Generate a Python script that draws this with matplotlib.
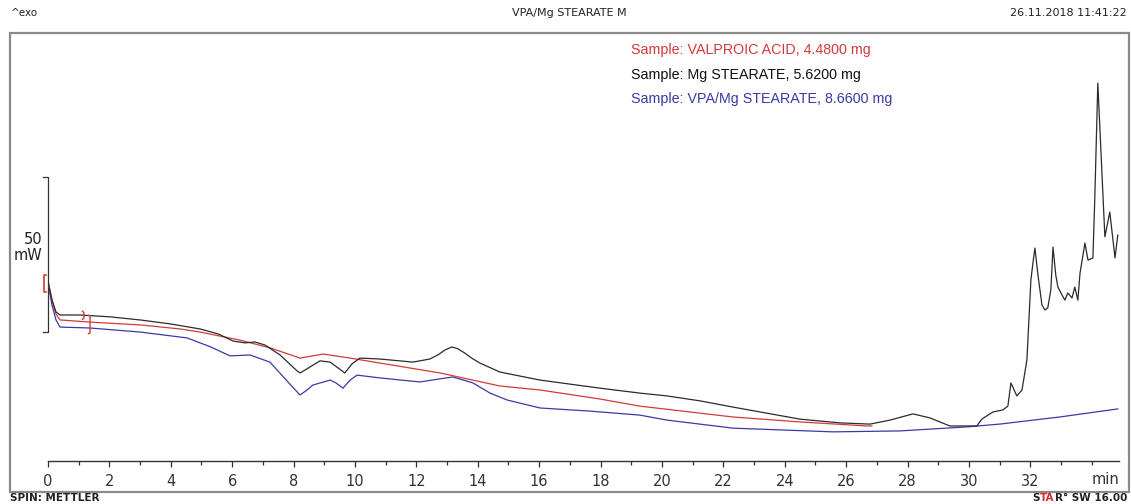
import matplotlib
matplotlib.use("Agg")
import matplotlib.pyplot as plt
from matplotlib.patches import Rectangle

# ---------------- data (time in min, heat flow in mW, arbitrary offset) ----------------
t_black = [0.00, 0.13, 0.26, 0.39, 1.04, 2.02, 3.00, 4.00, 4.95, 5.54, 6.03, 6.42, 6.74,
           7.07, 7.56, 7.98, 8.10, 8.21, 8.35, 8.53, 8.86, 9.19, 9.41, 9.67, 9.90, 10.16,
           10.81, 11.89, 12.44, 12.70, 12.93, 13.16, 13.35, 13.58, 13.80, 14.07, 14.72,
           16.03, 17.98, 19.28, 20.16, 21.24, 22.31, 24.50, 25.80, 26.78, 27.43, 28.18,
           28.73, 29.38, 30.26, 30.42, 30.78, 31.11, 31.27, 31.37, 31.56, 31.73, 31.89,
           32.02, 32.09, 32.15, 32.25, 32.38, 32.48, 32.57, 32.67, 32.74, 32.83, 32.90,
           33.03, 33.13, 33.22, 33.36, 33.45, 33.55, 33.62, 33.78, 33.88, 34.04, 34.10,
           34.20, 34.30, 34.43, 34.59, 34.76, 34.85]
hf_black = [58.1, 51.9, 48.1, 47.1, 47.1, 46.5, 45.5, 44.2, 42.6, 41.0, 38.7, 38.1, 38.4,
            37.4, 34.2, 30.3, 29.2, 28.4, 29.2, 30.3, 32.3, 31.9, 30.3, 28.4, 31.3, 33.2,
            32.9, 31.9, 32.9, 34.2, 35.8, 36.8, 36.2, 34.8, 33.2, 31.6, 28.7,
            26.1, 23.5, 21.9, 21.0, 19.4, 17.4, 13.5, 12.3, 11.9, 13.2, 15.2,
            13.9, 11.3, 11.3, 13.5, 15.8, 16.5, 17.7, 25.2, 21.0, 22.9, 32.6,
            58.4, 64.2, 68.7, 60.0, 50.3, 48.7, 49.4, 55.2, 69.0, 60.0, 56.1,
            53.6, 51.9, 54.2, 52.6, 56.1, 51.9, 60.6, 70.3, 64.8, 65.5, 84.2,
            121.9, 100.3, 72.3, 80.3, 65.5, 72.9]

t_red = [0.00, 0.13, 0.26, 0.39, 1.37, 3.00, 4.30, 4.95, 6.25, 7.23, 8.21, 8.96, 9.84,
         10.81, 12.77, 14.72, 16.03, 17.98, 19.28, 22.31, 24.50, 26.68, 26.84]
hf_red = [57.7, 51.9, 47.4, 45.5, 44.8, 43.9, 42.6, 41.6, 39.0, 36.5, 33.2, 34.5, 33.2,
          31.6, 28.4, 24.2, 22.9, 20.0, 17.7, 14.2, 12.6, 11.3, 11.3]

t_blue = [0.00, 0.13, 0.26, 0.39, 1.37, 3.00, 4.53, 5.30, 5.93, 6.58, 7.23, 7.88, 8.21,
          8.44, 8.63, 9.19, 9.38, 9.61, 9.84, 10.07, 10.81, 12.12, 12.77, 13.19, 13.84,
          14.40, 14.95, 16.03, 17.65, 19.28, 20.16, 22.31, 25.57, 27.75, 29.93, 31.00,
          32.96, 34.85]
hf_blue = [57.4, 50.3, 45.5, 43.2, 42.9, 41.6, 39.7, 36.8, 33.9, 34.2, 31.9, 24.8, 21.3,
           22.9, 24.5, 26.1, 25.2, 23.5, 26.1, 27.7, 26.8, 25.5, 26.5, 27.1, 25.2,
           21.9, 19.7, 17.1, 16.1, 14.8, 13.2, 10.6, 9.4, 9.7, 11.0, 11.9,
           14.2, 16.8]

labels = ["Sample: VALPROIC ACID, 4.4800 mg",
          "Sample: Mg STEARATE, 5.6200 mg",
          "Sample: VPA/Mg STEARATE, 8.6600 mg"]
major_ticks = list(range(0, 33, 2))
minor_ticks = list(range(0, 35))

C_RED = "#d23a3a"
C_BLACK = "#2b2b2b"
C_BLUE = "#3a3aa6"
C_FRAME = "#8a8a8a"
C_TXT = "#222222"

W, H = 1131, 504
fig = plt.figure(figsize=(W / 100, H / 100), dpi=100)
fig.patch.set_facecolor("white")

def fx(px):
    return px / W

def fy(py):
    return 1 - py / H

# frame
fig.patches.append(Rectangle((fx(10), fy(492)), fx(1129) - fx(10), fy(33) - fy(492),
                             transform=fig.transFigure, fill=False,
                             edgecolor=C_FRAME, linewidth=1.6, zorder=0))

ax = fig.add_axes([fx(48), fy(461), fx(1119) - fx(48), fy(40) - fy(461)])
ax.set_xlim(0, 34.89)
ax.set_ylim(0, 135.8)
ax.patch.set_alpha(0)
for s in ["top", "right", "left"]:
    ax.spines[s].set_visible(False)
ax.spines["bottom"].set_color("#333333")
ax.spines["bottom"].set_linewidth(1.0)
ax.set_yticks([])
ax.set_xticks(major_ticks)
ax.set_xticks(minor_ticks, minor=True)
ax.tick_params(axis="x", which="both", direction="out", length=4, width=0.9,
               colors="#333333", labelsize=10.5, pad=5)
ax.tick_params(axis="x", which="minor", length=3)
fig.text(fx(1119), fy(479), "min", ha="right", va="center", fontsize=10.5, color="#333333")

ax.plot(t_red, hf_red, color=C_RED, lw=0.9, zorder=3)
ax.plot(t_black, hf_black, color=C_BLACK, lw=0.9, zorder=4)
ax.plot(t_blue, hf_blue, color=C_BLUE, lw=0.9, zorder=2)

# scale bar 50 mW
SCALE_BASE = 41.6
SCALE_SPAN = 50
ax.plot([-0.17, 0, 0, -0.17], [SCALE_BASE + SCALE_SPAN, SCALE_BASE + SCALE_SPAN,
                               SCALE_BASE, SCALE_BASE],
        color="#333333", lw=0.9, clip_on=False)
fig.text(fx(42), fy(239), "50", ha="right", va="center", fontsize=10.5, color=C_TXT)
fig.text(fx(42), fy(255), "mW", ha="right", va="center", fontsize=10.5, color=C_TXT)

# evaluation limit markers (red brackets)
ax.plot([-0.05, -0.12, -0.12, -0.05], [hf_black[0] + 2, hf_black[0] + 2,
                                       hf_blue[0] - 3, hf_blue[0] - 3],
        color=C_RED, lw=1.2, clip_on=False, zorder=5)
ax.plot([1.12, 1.17, 1.17, 1.12], [hf_black[4] + 1.2, hf_black[4] + 0.8,
                                   hf_black[4] - 1.0, hf_black[4] - 1.4],
        color=C_RED, lw=1.0, zorder=5)
ax.plot([1.32, 1.37, 1.37, 1.32], [hf_red[4] + 2.2, hf_red[4] + 2.0,
                                   hf_blue[4] - 1.6, hf_blue[4] - 1.8],
        color=C_RED, lw=1.0, zorder=5)

# legend texts
for lab, col, ypx in zip(labels, [C_RED, "#111111", C_BLUE], [50, 75, 99]):
    fig.text(fx(631), fy(ypx), lab, color=col, fontsize=10.3, ha="left", va="center",
             family="Liberation Sans")

# header / footer
fig.text(fx(11), fy(13), "^exo", fontsize=7.5, ha="left", va="center", color=C_TXT)
fig.text(fx(569), fy(13), "VPA/Mg STEARATE M", fontsize=8, ha="center", va="center",
         color=C_TXT)
fig.text(fx(1127), fy(13), "26.11.2018 11:41:22", fontsize=8, ha="right", va="center",
         color=C_TXT)
fig.text(fx(10), fy(498), "SPIN: METTLER", fontsize=7.5, ha="left", va="center",
         color=C_TXT, weight="bold")

# "STAR° SW 16.00" with red "TA", laid out piece by piece, right-aligned
pieces = [("S", C_TXT), ("TA", "#d03030"), ("R\u00b0 SW 16.00", C_TXT)]
renderer = fig.canvas.get_renderer()
widths = []
for s, c in pieces:
    tt = fig.text(0, 0, s, fontsize=7.5, weight="bold")
    widths.append(tt.get_window_extent(renderer).width)
    tt.remove()
xcur = 1127 - sum(widths)
for (s, c), w in zip(pieces, widths):
    fig.text(fx(xcur), fy(498), s, fontsize=7.5, ha="left", va="center", color=c,
             weight="bold")
    xcur += w

fig.savefig("out.png", dpi=100, facecolor="white")
